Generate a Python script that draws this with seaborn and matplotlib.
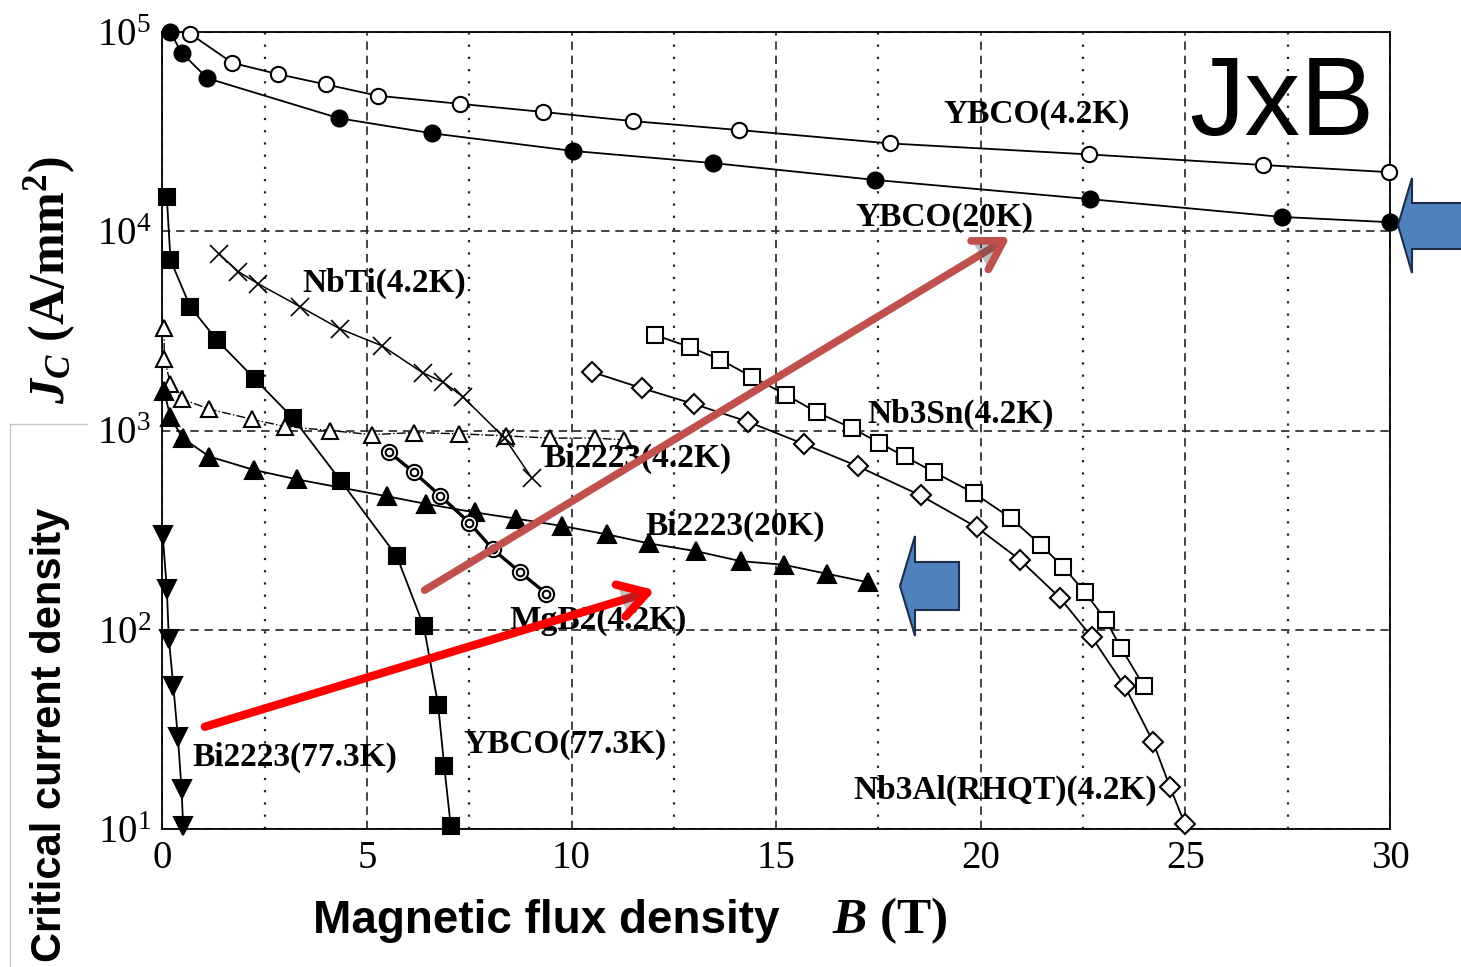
import numpy as np
import pandas as pd
import seaborn as sns
import matplotlib.pyplot as plt
from matplotlib.patches import Polygon
from matplotlib.lines import Line2D
from matplotlib.ticker import MultipleLocator, NullLocator, FixedLocator
import matplotlib.patheffects as pe

# Values: B in tesla, Jc in A/mm2

ybco42_b = [0.68, 1.71, 2.82, 3.99, 5.26, 7.27, 9.30, 11.50, 14.10, 17.77, 22.65, 26.90, 29.97]
ybco42_j = [98000, 70000, 61500, 54600, 47900, 43600, 39700, 35700, 32200, 27600, 24300, 21500, 19800]

ybco20_b = [0.20, 0.47, 1.10, 4.32, 6.60, 10.03, 13.45, 17.41, 22.66, 27.35, 30.0]
ybco20_j = [99600, 78700, 58600, 36900, 31000, 25300, 22000, 18100, 14500, 11800, 11100]

ybco77_b = [0.11, 0.20, 0.68, 1.33, 2.26, 3.20, 4.36, 5.73, 6.39, 6.74, 6.89, 7.05]
ybco77_j = [14900, 7180, 4190, 2850, 1815, 1150, 559, 234, 104, 42, 20.6, 10.3]

bi77_b = [0.01, 0.11, 0.16, 0.27, 0.38, 0.47, 0.51]
bi77_j = [298, 161, 90, 52, 29, 15.9, 10.3]

bi42_b = [0.04, 0.05, 0.20, 0.47, 1.15, 2.18, 3.00, 4.10, 5.13, 6.16, 7.26, 8.40, 9.47, 10.57, 11.29]
bi42_j = [3260, 2285, 1714, 1442, 1280, 1140, 1047, 1000, 953, 977, 962, 940, 916, 916, 897]

bi20_b = [0.04, 0.20, 0.50, 1.15, 2.24, 3.28, 5.48, 6.45, 7.64, 8.65, 9.76, 10.87, 11.90, 13.04, 14.13, 15.18, 16.24, 17.25]
bi20_j = [1585, 1167, 914, 740, 634, 569, 468, 428, 388, 361, 332, 301, 271, 248, 221, 212, 191, 173]

nbti_b = [1.39, 1.86, 2.35, 3.36, 4.34, 5.38, 6.36, 6.87, 7.34, 8.37, 9.03]
nbti_j = [7690, 6270, 5440, 4190, 3236, 2655, 1950, 1746, 1479, 914, 577]

mgb2_b = [5.53, 6.14, 6.79, 7.50, 8.08, 8.75, 9.38]
mgb2_j = [782, 619, 471, 345, 253, 194, 152]

nb3sn_b = [12.03, 12.90, 13.63, 14.40, 15.24, 16.00, 16.85, 17.51, 18.14, 18.86, 19.84, 20.73, 21.46, 22.02, 22.54, 23.05, 23.43, 23.99]
nb3sn_j = [3020, 2618, 2270, 1866, 1510, 1233, 1028, 869, 741, 618, 484, 364, 267, 206, 155, 112, 81, 52]

nb3al_b = [10.51, 11.71, 12.99, 14.30, 15.69, 16.99, 18.53, 19.90, 20.95, 21.93, 22.71, 23.52, 24.21, 24.62, 24.99]
nb3al_j = [1963, 1633, 1358, 1109, 853, 662, 472, 327, 225, 145, 92, 52, 27.4, 16.3, 10.6]

# Curve labels and where they sit (B, Jc)
label_text = ['YBCO(4.2K)', 'YBCO(20K)', 'NbTi(4.2K)', 'Bi2223(4.2K)', 'Nb3Sn(4.2K)',
              'Bi2223(20K)', 'MgB2(4.2K)', 'YBCO(77.3K)', 'Bi2223(77.3K)', 'Nb3Al(RHQT)(4.2K)']
label_b = [21.37, 19.12, 5.42, 11.6, 19.51, 14.0, 10.64, 9.84, 3.24, 20.59]
label_j = [38400, 11700, 5450, 721, 1211, 332, 111, 26.4, 23.0, 15.7]

x_ticks = [0, 5, 10, 15, 20, 25, 30]
y_ticks = [1e1, 1e2, 1e3, 1e4, 1e5]

# Style

sns.set_style('white')
plt.rcParams['font.family'] = ['Liberation Serif', 'DejaVu Serif']
plt.rcParams['text.color'] = 'black'
plt.rcParams['xtick.color'] = 'black'
plt.rcParams['ytick.color'] = 'black'
plt.rcParams['mathtext.fontset'] = 'custom'
plt.rcParams['mathtext.rm'] = 'Liberation Serif'
plt.rcParams['mathtext.it'] = 'Liberation Serif:italic'
plt.rcParams['mathtext.bf'] = 'Liberation Serif:bold'
plt.rcParams['mathtext.bfit'] = 'Liberation Serif:italic:bold'

W, H = 1461, 967
fig = plt.figure(figsize=(W / 100, H / 100), dpi=100)
ax = fig.add_axes([162.3 / W, 1 - 829 / H, (1390 - 162.3) / W, (829 - 32) / H])
ax.set_yscale('log')

def curve(b, j, marker, face, ms, lw=1.3, ls='-', mew=1.5):
    sns.lineplot(x=b, y=j, ax=ax, color='black', marker=marker, markersize=ms,
                 markerfacecolor=face, markeredgecolor='black', markeredgewidth=mew,
                 linewidth=lw, linestyle=ls, estimator=None, sort=False,
                 legend=False, clip_on=False, zorder=3)

curve(ybco42_b, ybco42_j, 'o', 'white', 11)
curve(ybco20_b, ybco20_j, 'o', 'black', 11.5)
curve(ybco77_b, ybco77_j, 's', 'black', 11.5)
curve(bi77_b, bi77_j, 'v', 'black', 12.5)
curve(bi42_b, bi42_j, '^', 'white', 12, lw=1.0, ls='-.')
curve(bi20_b, bi20_j, '^', 'black', 12.5)
curve(nbti_b, nbti_j, 'x', 'black', 13, lw=1.1, mew=1.2)
curve(mgb2_b, mgb2_j, 'o', 'white', 11, lw=2.4)
ax.plot(mgb2_b, mgb2_j, 'o', ms=5.5, mfc='white', mec='black', mew=1.5, zorder=4)
curve(nb3sn_b, nb3sn_j, 's', 'white', 11)
curve(nb3al_b, nb3al_j, 'D', 'white', 10)

for t, b, j in zip(label_text, label_b, label_j):
    ax.text(b, j, t, fontsize=24, fontweight='bold', ha='center', va='center', zorder=4)

ax.text(27.35, 30400, 'JxB', family='Liberation Sans', fontsize=80, ha='center', va='baseline')

# Axes, grid
ax.set_xlim(0, 30)
ax.set_ylim(10, 1e5)
ax.xaxis.set_major_locator(FixedLocator(x_ticks))
ax.xaxis.set_minor_locator(MultipleLocator(2.5))
ax.yaxis.set_major_locator(FixedLocator(y_ticks))
ax.yaxis.set_minor_locator(NullLocator())
ax.set_xticklabels([str(v) for v in x_ticks])
ax.set_yticklabels([r'$\mathregular{10^{%d}}$' % int(np.log10(v)) for v in y_ticks])
ax.tick_params(which='both', length=0, labelsize=28, pad=8, labelcolor='black')
ax.set_xlabel('')
ax.set_ylabel('')
ax.grid(which='major', axis='both', color='#222222', linewidth=1.2, linestyle=(0, (5, 3.5)))
ax.grid(which='minor', axis='x', color='#222222', linewidth=1.6, linestyle=(0, (1, 4.5)))
ax.set_axisbelow(True)
for s in ax.spines.values():
    s.set_color('black')
    s.set_linewidth(1.3)

# Arrows
shadow = [pe.SimplePatchShadow(offset=(2, -2), alpha=0.35), pe.Normal()]
ax.annotate('', xy=(12.04, 158), xytext=(1.04, 32.6),
            arrowprops=dict(arrowstyle='->,head_length=0.5,head_width=0.3', color='#FF0000',
                            lw=6, mutation_scale=40, shrinkA=0, shrinkB=0, path_effects=shadow),
            zorder=6)
ax.annotate('', xy=(20.71, 9360), xytext=(6.41, 158),
            arrowprops=dict(arrowstyle='->,head_length=0.5,head_width=0.3', color='#C0504D',
                            lw=5.5, mutation_scale=40, shrinkA=0, shrinkB=0, path_effects=shadow),
            zorder=6)

def px(points):
    return [(x / W, 1 - y / H) for x, y in points]

blue_mid = [(900, 586), (915, 536), (915, 562), (959, 562), (959, 610), (915, 610), (915, 636)]
blue_right = [(1398, 225), (1412, 178), (1412, 203), (1475, 203), (1475, 249), (1412, 249), (1412, 273)]
for pts in (blue_mid, blue_right):
    fig.patches.append(Polygon(px(pts), closed=True, transform=fig.transFigure,
                               facecolor='#4F81BD', edgecolor='#1C2E4A', linewidth=1.5, zorder=7))

# Axis titles
fig.text(313 / W, 1 - 933 / H, 'Magnetic flux density', family='Liberation Sans',
         fontweight='bold', fontsize=33, ha='left', va='baseline')
fig.text(832 / W, 1 - 933 / H, r'$\mathbfit{B}$ (T)', fontweight='bold', fontsize=37,
         ha='left', va='baseline')
fig.text(50 / W, 1 - 735 / H, 'Critical current density', family='Liberation Sans',
         fontweight='bold', fontsize=30, rotation=90, ha='center', va='center')
fig.text(50 / W, 1 - 280 / H, r'$\mathbfit{J}_{\mathbfit{C}}$ (A/mm$^{\mathbf{2}}$)',
         fontweight='bold', fontsize=36, rotation=90, ha='center', va='center')

# thin grey frame left over at the slide edge
fig.add_artist(Line2D([10 / W, 10 / W], [1 - 424 / H, 0], color='#C8C8C8', lw=1))
fig.add_artist(Line2D([10 / W, 87 / W], [1 - 424 / H, 1 - 424 / H], color='#C8C8C8', lw=1))

fig.savefig('out.png', dpi=100)
